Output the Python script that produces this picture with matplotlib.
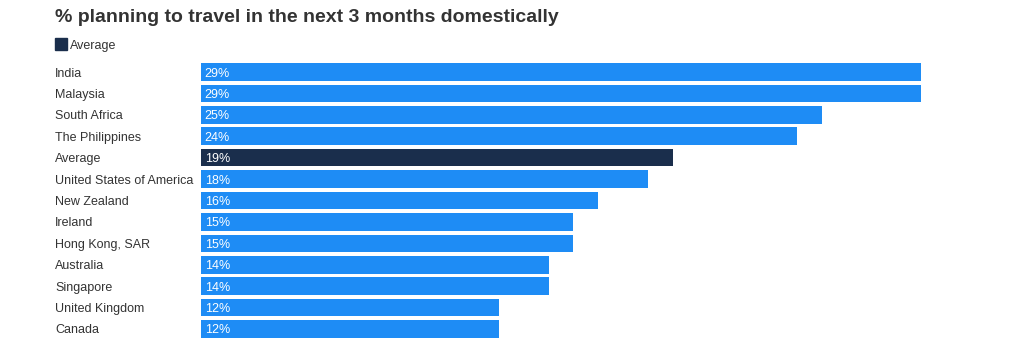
import matplotlib.pyplot as plt
from matplotlib.patches import Rectangle

plt.rcParams['font.family'] = ['Liberation Sans', 'DejaVu Sans']

countries = ["India", "Malaysia", "South Africa", "The Philippines", "Average",
             "United States of America", "New Zealand", "Ireland", "Hong Kong, SAR",
             "Australia", "Singapore", "United Kingdom", "Canada"]
values = [29, 29, 25, 24, 19, 18, 16, 15, 15, 14, 14, 12, 12]

BLUE = "#1e8cf5"
NAVY = "#1a2e4c"
TEXT = "#333333"

W, H = 1024, 350
fig = plt.figure(figsize=(W / 100, H / 100), dpi=100)

px_per_pct = 24.83
x0 = 201
xmax = 30
ax = fig.add_axes([x0 / W, 1 - 339.7 / H, xmax * px_per_pct / W, 278.4 / H])

ypos = list(range(len(countries)))
colors = [NAVY if c == "Average" else BLUE for c in countries]
ax.barh(ypos, values, height=0.82, color=colors)
ax.set_xlim(0, xmax)
ax.set_ylim(len(countries) - 0.5, -0.5)
ax.axis("off")

# value labels inside the bars
for y, v in enumerate(values):
    ax.text(0.15, y, f"{v}%", color="white", va="center_baseline", ha="left",
            fontsize=9)

# category labels on the left, aligned to the figure edge
for y, c in enumerate(countries):
    disp_y = ax.transData.transform((0, y))[1]
    fig.text(55 / W, disp_y / (fig.dpi * fig.get_figheight()), c, color=TEXT,
             fontsize=9, va="center_baseline", ha="left")

fig.text(55 / W, 1 - 16 / H, "% planning to travel in the next 3 months domestically",
         fontsize=14, fontweight="bold", color=TEXT, va="center_baseline", ha="left")

fig.patches.append(Rectangle((55 / W, 1 - 50 / H), 12 / W, 12 / H,
                             transform=fig.transFigure, color=NAVY, figure=fig))
fig.text(70 / W, 1 - 44 / H, "Average", fontsize=9, color=TEXT,
         va="center_baseline", ha="left")

fig.savefig("out.png", dpi=100, facecolor="white")
